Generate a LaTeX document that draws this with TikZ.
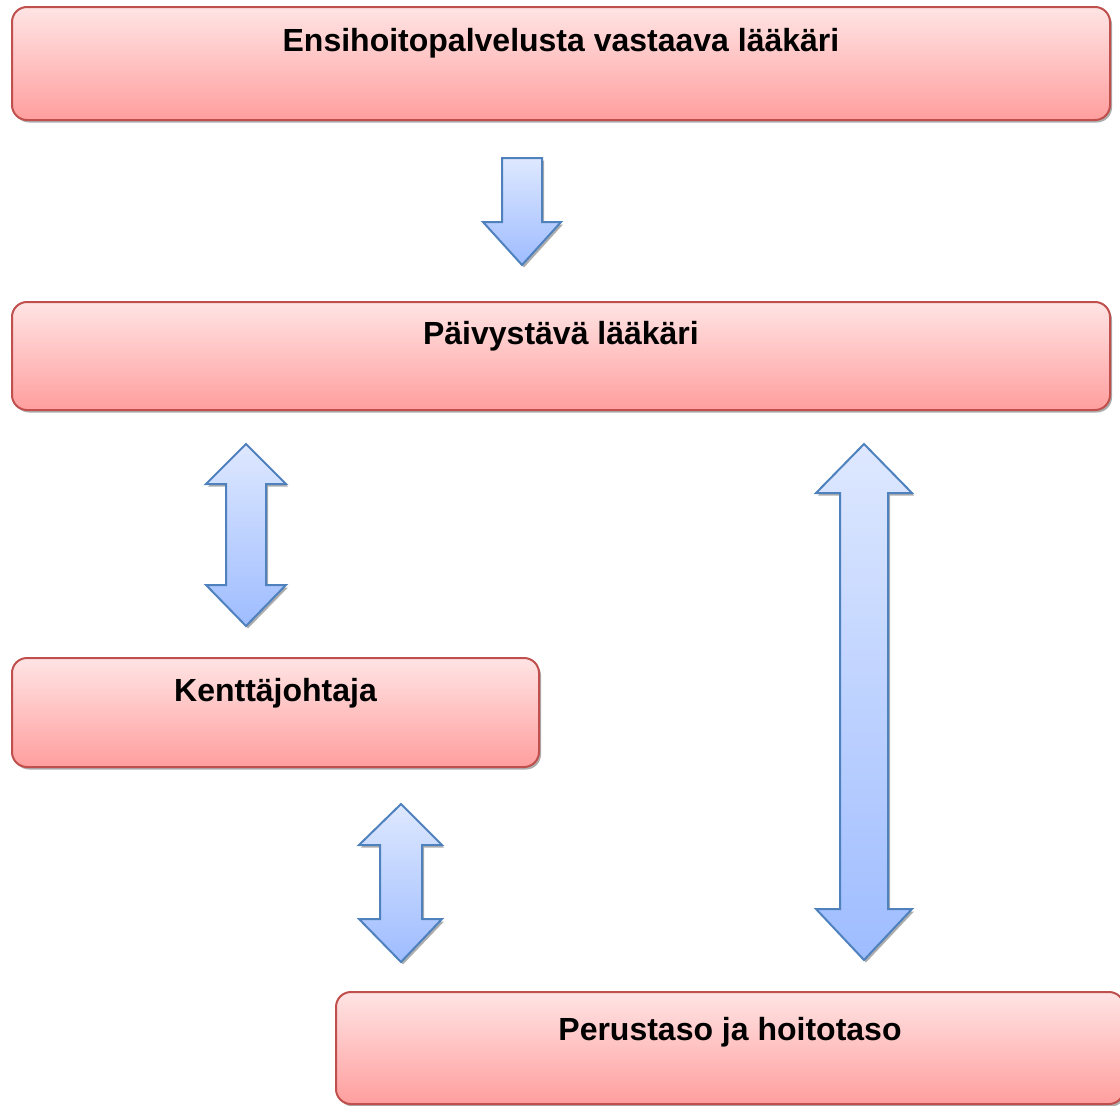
\documentclass[tikz,border=0pt]{standalone}
\usepackage{fontspec}
\setmainfont{Liberation Sans}
\usepackage{tikz}
\usetikzlibrary{shadows}

\definecolor{boxTop}{RGB}{255,228,228}
\definecolor{boxBottom}{RGB}{255,158,158}
\definecolor{boxLine}{RGB}{192,80,77}
\definecolor{arrowTop}{RGB}{222,232,255}
\definecolor{arrowBottom}{RGB}{158,188,255}
\definecolor{arrowLine}{RGB}{79,129,189}

\tikzset{
	levelbox/.style={rectangle, rounded corners=15pt, draw=boxLine, line width=2pt, top color=boxTop, bottom color=boxBottom, drop shadow={shadow xshift=2pt, shadow yshift=-2.5pt, fill=gray!80, opacity=0.8}},
	levellabel/.style={anchor=base, font=\bfseries\fontsize{32}{38}\selectfont},
	blockarrow/.style={draw=arrowLine, line width=2pt, line join=miter, top color=arrowTop, bottom color=arrowBottom, drop shadow={shadow xshift=2pt, shadow yshift=-2.5pt, fill=gray!80, opacity=0.8}}
}

\begin{document}
\begin{tikzpicture}[x=1pt, y=-1pt]
		\useasboundingbox (0,0) rectangle (1120,1106);
		\begin{scope}
		\clip (0,0) rectangle (1120,1106);

		\node[levelbox, minimum width=1098pt, minimum height=113pt, label={[levellabel, yshift=-45pt]north:Ensihoitopalvelusta vastaava lääkäri}](johtavaBox) at (561,63.5){};
		\node[levelbox, minimum width=1098pt, minimum height=108pt, label={[levellabel, yshift=-43pt]north:Päivystävä lääkäri}](paivystavaBox) at (561,356){};
		\node[levelbox, minimum width=527pt, minimum height=109pt, label={[levellabel, yshift=-44pt]north:Kenttäjohtaja}](kenttaBox) at (275.5,712.5){};
		\node[levelbox, minimum width=788pt, minimum height=112pt, label={[levellabel, yshift=-49pt]north:Perustaso ja hoitotaso}](perusBox) at (730,1048){};

		% draw block arrows
		\draw[blockarrow] (502,158) -- (542,158) -- (542,222) -- (561,222) -- (522,265) -- (483,222) -- (502,222) -- cycle;
		\draw[blockarrow] (246,444) -- (286,484) -- (266,484) -- (266,585) -- (286,585) -- (246,626) -- (206,585) -- (226,585) -- (226,484) -- (206,484) -- cycle;
		\draw[blockarrow] (401,804) -- (442,845) -- (422,845) -- (422,919) -- (442,919) -- (401,962) -- (359,919) -- (380,919) -- (380,845) -- (359,845) -- cycle;
		\draw[blockarrow] (864,444) -- (912,493) -- (888,493) -- (888,909) -- (912,909) -- (864,960) -- (816,909) -- (840,909) -- (840,493) -- (816,493) -- cycle;
		\end{scope}
	\end{tikzpicture}
\end{document}
